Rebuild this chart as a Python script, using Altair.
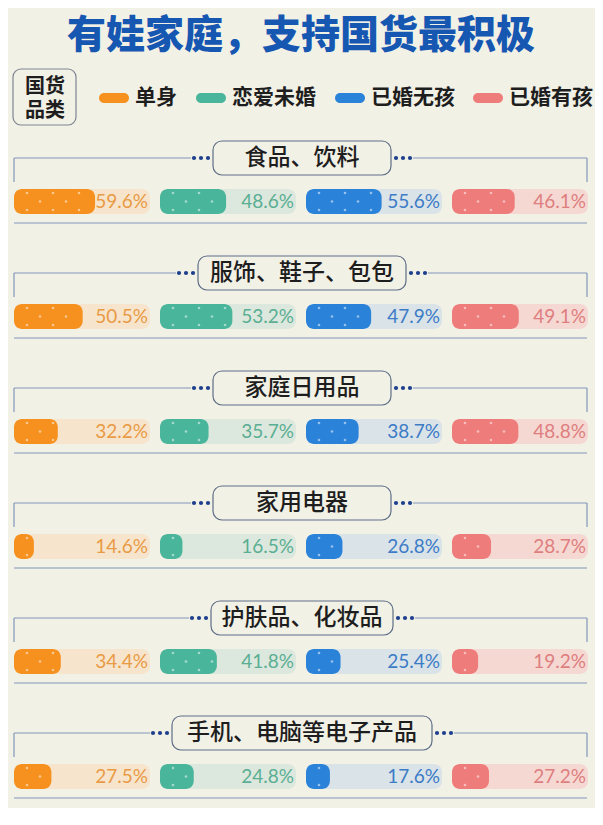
import altair as alt
import pandas as pd

# ---------------- data ----------------
title_text = "有娃家庭，支持国货最积极"
legend_box_text = "国货\n品类"
categories = ["食品、饮料", "服饰、鞋子、包包", "家庭日用品", "家用电器", "护肤品、化妆品", "手机、电脑等电子产品"]
series = ["单身", "恋爱未婚", "已婚无孩", "已婚有孩"]
single = [59.6, 50.5, 32.2, 14.6, 34.4, 27.5]
dating = [48.6, 53.2, 35.7, 16.5, 41.8, 24.8]
married_no_kids = [55.6, 47.9, 38.7, 26.8, 25.4, 17.6]
married_kids = [46.1, 49.1, 48.8, 28.7, 19.2, 27.2]
values = [single, dating, married_no_kids, married_kids]

# ---------------- styles ----------------
BG = "#F2F1E6"
fill_colors = ["#F6901E", "#49B59A", "#2B83D9", "#EE7C7B"]
track_colors = ["#F6E5CC", "#DCE8DD", "#D9E3E8", "#F5D8D2"]
text_colors = ["#E99A45", "#5AAE93", "#3C7BC6", "#DE7E7F"]
LINE = "#8098BA"
DOT = "#1D3F8E"
CJK = "Noto Sans CJK SC"

# ---------------- layout ----------------
PANEL_Y0, PANEL_STEP = 158, 115
TRACK_X0, TRACK_W, TRACK_STEP = 14, 136, 146
RIGHT = 587
CENTER_X = 302

bars, dots, segs, boxes, hdots = [], [], [], [], []
for p, cat in enumerate(categories):
    L = PANEL_Y0 + p * PANEL_STEP
    top, bot = L + 31, L + 56
    for g, s in enumerate(series):
        v = values[g][p]
        x0 = TRACK_X0 + g * TRACK_STEP
        xf = x0 + v / 100 * TRACK_W
        bars.append(dict(cat=cat, series=s, value=v, label=f"{v}%", x0=x0, x1=x0 + TRACK_W,
                         xf=xf, xt=x0 + TRACK_W - 2, yt=top, yb=bot, ym=(top + bot) / 2))
        for r, dy in enumerate([4, 12.5, 21]):
            k = 0
            while True:
                dx = (13 if r != 1 else 26) + 26 * k
                if x0 + dx > xf - 4:
                    break
                dots.append(dict(x=x0 + dx, y=top + dy))
                k += 1
    bw = max(178, 26 * len(cat))
    bl, br = CENTER_X - bw / 2, CENTER_X + bw / 2
    boxes.append(dict(cat=cat, x=bl, x2=br, y=L - 17, y2=L + 17, xc=CENTER_X, yc=L))
    for d in [5, 12, 19]:
        hdots.append(dict(x=bl - d, y=L))
        hdots.append(dict(x=br + d, y=L))
    segs += [
        dict(x=TRACK_X0, x2=bl - 22, y=L, y2=L),
        dict(x=br + 22, x2=RIGHT, y=L, y2=L),
        dict(x=TRACK_X0, x2=TRACK_X0, y=L, y2=L + 24),
        dict(x=RIGHT, x2=RIGHT, y=L, y2=L + 24),
        dict(x=TRACK_X0, x2=RIGHT, y=L + 65, y2=L + 65),
    ]

bars = pd.DataFrame(bars)
dots = pd.DataFrame(dots)
segs = pd.DataFrame(segs)
boxes = pd.DataFrame(boxes)
hdots = pd.DataFrame(hdots)

leg_x = [99, 196, 335, 473]
legend = pd.DataFrame(dict(series=series, x=leg_x, x2=[x + 30 for x in leg_x],
                           xt=[x + 36 for x in leg_x], y=[93] * 4, y2=[103] * 4, yc=[98] * 4))
lbox = pd.DataFrame([dict(x=13, x2=76, y=69, y2=125)])
ltext = pd.DataFrame([dict(t=legend_box_text, x=45, y=86.5)])
tdf = pd.DataFrame([dict(t=title_text, x=301, y=36)])

XS = alt.Scale(domain=[8, 595], nice=False, zero=False)
YS = alt.Scale(domain=[8, 808], nice=False, zero=False, reverse=True)


def X(f):
    return alt.X(f"{f}:Q", scale=XS, axis=None)


def Y(f):
    return alt.Y(f"{f}:Q", scale=YS, axis=None)


def col(domain, rng):
    return alt.Color("series:N", scale=alt.Scale(domain=domain, range=rng), legend=None)


track = alt.Chart(bars).mark_rect(cornerRadius=8).encode(
    x=X("x0"), x2="x1", y=Y("yt"), y2="yb", color=col(series, track_colors))
fill = alt.Chart(bars).mark_rect(cornerRadius=8).encode(
    x=X("x0"), x2="xf", y=Y("yt"), y2="yb", color=col(series, fill_colors))
pattern = alt.Chart(dots).mark_circle(color="white", opacity=0.5, size=7).encode(x=X("x"), y=Y("y"))
labels = alt.Chart(bars).mark_text(align="right", baseline="middle", font="Lato", fontSize=19).encode(
    x=X("xt"), y=Y("ym"), text="label:N", color=col(series, text_colors))

rules = alt.Chart(segs).mark_rule(color=LINE, strokeWidth=1.2).encode(
    x=X("x"), x2="x2", y=Y("y"), y2="y2")
hbox = alt.Chart(boxes).mark_rect(cornerRadius=9, fill=BG, stroke="#5E6E86", strokeWidth=1.2).encode(
    x=X("x"), x2="x2", y=Y("y"), y2="y2")
htext = alt.Chart(boxes).mark_text(font=CJK, fontSize=23, fontWeight=500, color="#1E1E1E",
                                   baseline="middle").encode(
    x=X("xc"), y=Y("yc"), text="cat:N")
hdot = alt.Chart(hdots).mark_circle(color=DOT, opacity=1, size=18).encode(x=X("x"), y=Y("y"))

lpill = alt.Chart(legend).mark_rect(cornerRadius=5).encode(
    x=X("x"), x2="x2", y=Y("y"), y2="y2", color=col(series, fill_colors))
llab = alt.Chart(legend).mark_text(font=CJK, fontSize=21, fontWeight="bold", color="#1E1E1E",
                                   align="left", baseline="middle").encode(
    x=X("xt"), y=Y("yc"), text="series:N")
lb = alt.Chart(lbox).mark_rect(cornerRadius=8, fill=BG, stroke="#7E8592", strokeWidth=1.2).encode(
    x=X("x"), x2="x2", y=Y("y"), y2="y2")
lbt = alt.Chart(ltext).mark_text(font=CJK, fontSize=20, fontWeight="bold", color="#1E1E1E",
                                 baseline="middle", lineBreak="\n", lineHeight=24).encode(
    x=X("x"), y=Y("y"), text="t:N")
ttl = alt.Chart(tdf).mark_text(font=CJK, fontSize=39, fontWeight=900, color="#1657B2",
                               baseline="middle").encode(x=X("x"), y=Y("y"), text="t:N")

chart = alt.layer(
    rules, hbox, htext, hdot, track, fill, pattern, labels, lb, lbt, lpill, llab, ttl
).resolve_scale(color="independent").properties(
    width=587, height=800, background=BG, padding=0,
    autosize=alt.AutoSizeParams(type="none"),
).configure_view(stroke=None)

chart.save("out.html", embed_options={"renderer": "svg", "actions": False})
